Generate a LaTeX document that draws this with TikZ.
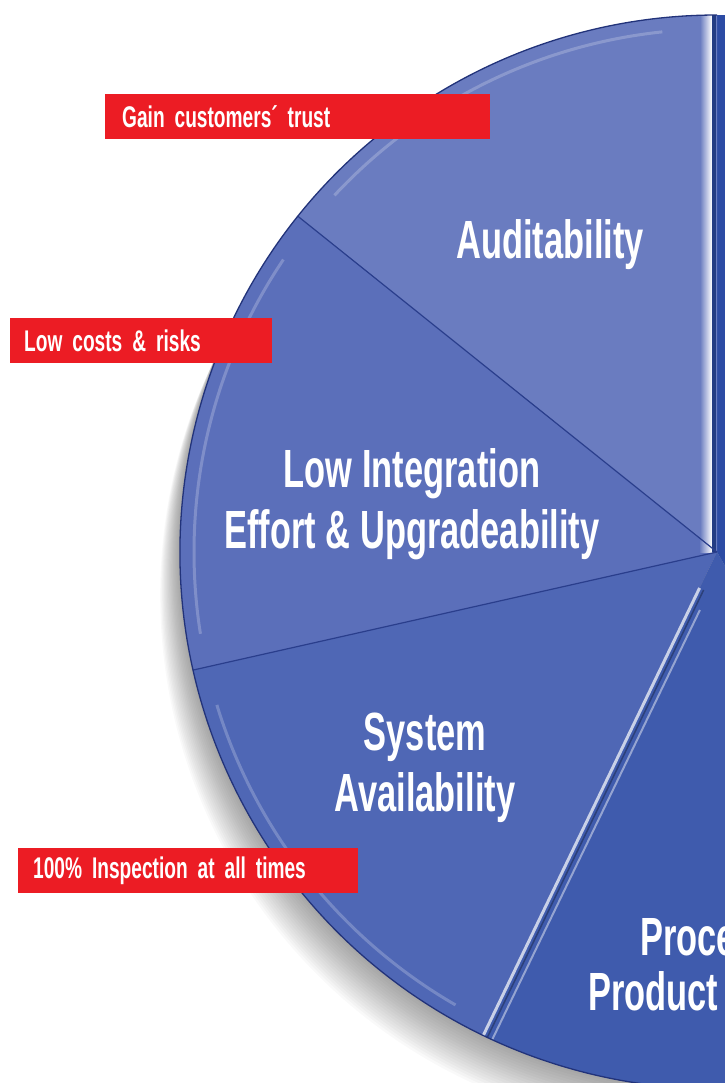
\documentclass[tikz,border=0pt]{standalone}
\usepackage{fontspec}
\usepackage{xcolor}
\newfontfamily\condfont[FakeStretch=0.64]{Liberation Sans}
\definecolor{sliceColorA}{HTML}{6A7CC0}
\definecolor{sliceColorB}{HTML}{5B6FBA}
\definecolor{sliceColorC}{HTML}{4F67B5}
\definecolor{sliceColorD}{HTML}{3F5BAD}
\definecolor{sliceColorE}{HTML}{2C4BA4}
\definecolor{rimColor}{HTML}{22337A}
\definecolor{splitColor}{HTML}{2A3E8C}
\definecolor{tagBgColor}{HTML}{EC1C24}
\def\tagTextA{Gain customers´ trust}
\def\tagTextB{Low costs \& risks}
\def\tagTextC{100\% Inspection at all times}

\begin{document}
\begin{tikzpicture}[x=1bp,y=-1bp,
  tag/.style={fill=tagBgColor, text=white, anchor=west, align=left,
    inner ysep=0pt, minimum height=45bp,
    font=\condfont\bfseries\fontsize{30}{33}\selectfont},
  slicelabel/.style={text=white, align=center, inner sep=0pt,
    font=\condfont\bfseries\fontsize{54}{61}\selectfont},
  split/.style={splitColor, line width=1.2bp}]

\useasboundingbox (0, 0) rectangle (725, 1083);
\clip (0, 0) rectangle (725, 1083);

% pie centre and radius
\coordinate (pc) at (717, 552);
\def\pieR{537}

% shadow layer
\begin{scope}
\foreach \k in {1,...,18}
  \fill[black, opacity=0.022] ([shift={(-1.1*\k, 2.4*\k)}]pc) circle (\pieR);
\end{scope}

% slice layer
\begin{scope}
\fill[color=sliceColorE] (pc) -- ++(-90:\pieR) arc[start angle=-90, end angle=60, radius=\pieR] -- cycle;
\fill[color=sliceColorA] (pc) -- ++(-141.3:\pieR) arc[start angle=-141.3, end angle=-90, radius=\pieR] -- cycle;
\fill[color=sliceColorB] (pc) -- ++(167.3:\pieR) arc[start angle=167.3, end angle=218.7, radius=\pieR] -- cycle;
\fill[color=sliceColorC] (pc) -- ++(115.8:\pieR) arc[start angle=115.8, end angle=167.3, radius=\pieR] -- cycle;
\fill[color=sliceColorD] (pc) -- ++(60:\pieR) arc[start angle=60, end angle=115.8, radius=\pieR] -- cycle;
\end{scope}

% highlight layer
\begin{scope}
\clip (pc) circle (\pieR);
\shade[left color=sliceColorA, right color=white] (700, 0) rectangle (712, 552);
\fill[color=sliceColorE!80!black] (712, 0) rectangle (716, 552);
\draw[white, opacity=0.7, line width=3bp] (pc) ++(115.8:40) -- ++(115.8:\pieR);
\draw[sliceColorD!70!black, line width=1.5bp] ([shift={(4,2)}]pc) ++(115.8:40) -- ++(115.8:\pieR);
\draw[white, opacity=0.45, line width=2bp] ([shift={(9,4)}]pc) ++(115.8:60) -- ++(115.8:\pieR);
\draw[white, opacity=0.35, line width=3bp] (pc) ++(60:20) -- ++(60:\pieR);
\foreach \a/\b in {-137/-96, 171/214, 120/163}
  \draw[white, opacity=0.22, line width=3bp] (pc) ++(\a:\pieR-14) arc[start angle=\a, end angle=\b, radius=\pieR-14];
\end{scope}

% divider layer
\begin{scope}
\draw[split] (pc) -- ++(-141.3:\pieR);
\draw[split] (pc) -- ++(167.3:\pieR);
\draw[rimColor, line width=1.3bp] (pc) ++(60:\pieR) arc[start angle=60, end angle=270, radius=\pieR];
\end{scope}

% slice labels
\node[slicelabel] (audit) at (550, 245) {Auditability};
\node[slicelabel] (integ) at (412, 504) {Low Integration\\Effort \& Upgradeability};
\node[slicelabel] (avail) at (425, 768) {System\\Availability};
\node[slicelabel, anchor=base west] (proc) at (640, 955) {Process};
\node[slicelabel, anchor=base west] (prod) at (588, 1010) {Product};

% tag layer
\node[tag, inner xsep=17bp, text width=351bp] (trust) at (105, 116.5) {\tagTextA};
\node[tag, inner xsep=14bp, text width=234bp] (costs) at (10, 340.5) {\tagTextB};
\node[tag, inner xsep=15bp, text width=310bp] (inspect) at (18, 870.5) {\tagTextC};

\end{tikzpicture}
\end{document}
